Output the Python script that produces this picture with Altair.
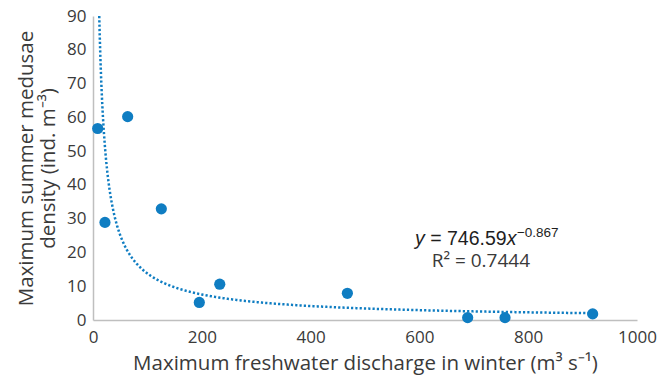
import altair as alt
import pandas as pd

# Observations: winter peak freshwater discharge vs summer peak medusae density
discharge = [8.6, 22.0, 63.7, 125.6, 195.4, 233.0, 467.6, 688.7, 757.4, 918.5]
density = [56.7, 28.9, 60.2, 32.9, 5.2, 10.6, 7.9, 0.7, 0.7, 1.8]

# Power-law fit y = a * x^b
coef_a = 746.59
coef_b = -0.867
r_squared = 0.7444

x_ticks = [0, 200, 400, 600, 800, 1000]
y_ticks = [0, 10, 20, 30, 40, 50, 60, 70, 80, 90]

# label anchors (data units)
eq_anchor_x = [592]
eq_anchor_y = [22.2]
r2_anchor_x = [713]
r2_anchor_y = [15.6]

BLUE = "#0f7dc2"
TEXT = "#3a3a3a"
FONT = "Open Sans"

df = pd.DataFrame({"discharge": discharge, "density": density})

xs = alt.Scale(domain=[0, 1000], nice=False, zero=True)
ys = alt.Scale(domain=[0, 90], nice=False, zero=True)

x_axis = alt.Axis(
    values=x_ticks,
    format="d",
    title="Maximum freshwater discharge in winter (m³ s⁻¹)",
    grid=False,
    ticks=False,
    tickSize=0,
    labelFlush=False,
    labelPadding=9,
    titlePadding=8,
)
y_axis = alt.Axis(
    values=y_ticks,
    format="d",
    title=["Maximum summer medusae", "density (ind. m⁻³)"],
    grid=False,
    ticks=False,
    tickSize=0,
    labelFlush=False,
    labelPadding=7,
    titlePadding=8,
)


def enc(xfield, yfield):
    return dict(
        x=alt.X(f"{xfield}:Q", scale=xs, axis=x_axis),
        y=alt.Y(f"{yfield}:Q", scale=ys, axis=y_axis),
    )


points = alt.Chart(df).mark_circle(size=125, color=BLUE, opacity=1).encode(
    **enc("discharge", "density")
)

# trendline starts where the curve enters the plotted range
x_start = (90 / coef_a) ** (1 / coef_b)
trend = (
    alt.Chart(alt.sequence(x_start, max(discharge) + 0.5, 0.5, as_="discharge"))
    .transform_calculate(density=f"{coef_a} * pow(datum.discharge, {coef_b})")
    .mark_line(color=BLUE, strokeWidth=2.5, strokeDash=[2.2, 2.1], clip=True)
    .encode(**enc("discharge", "density"))
)

eq_df = pd.DataFrame({"discharge": eq_anchor_x, "density": eq_anchor_y})
r2_df = pd.DataFrame({"discharge": r2_anchor_x, "density": r2_anchor_y})

eq_size = 19.5
sup_size = 13.5
w_y = 0.5 * eq_size
w_space = 0.278 * eq_size
w_mid = (0.278 + 0.584 + 0.278 + 3.058) * eq_size


def eq_piece(text, dx=0, dy=0, size=eq_size, style="normal"):
    return alt.Chart(eq_df).mark_text(
        text=text, align="left", baseline="alphabetic", dx=dx, dy=dy,
        font="Liberation Sans", fontSize=size, fontStyle=style, color="#1e1e1e",
    ).encode(**enc("discharge", "density"))


eq_y = eq_piece("y", style="italic")
eq_mid = eq_piece(f"= {coef_a}", dx=w_y + w_space)
eq_x = eq_piece("x", dx=w_y + w_mid, style="italic")
eq_sup = eq_piece(f"\u2212{abs(coef_b)}", dx=w_y + w_mid + w_y + 0.5, dy=-8, size=sup_size)

r2 = alt.Chart(r2_df).mark_text(
    text=f"R² = {r_squared}", align="center", baseline="alphabetic",
    font=FONT, fontSize=19, color=TEXT,
).encode(**enc("discharge", "density"))

chart = (
    alt.layer(trend, points, eq_y, eq_mid, eq_x, eq_sup, r2)
    .properties(
        width=544,
        height=304,
        autosize=alt.AutoSizeParams(type="none"),
        padding={"left": 93, "top": 16, "right": 25, "bottom": 58},
        background="white",
    )
    .configure_view(stroke=None)
    .configure_axis(
        domainColor="#bfbfbf",
        domainWidth=1.5,
        labelFont=FONT,
        labelFontSize=17,
        labelColor=TEXT,
        titleFont=FONT,
        titleFontSize=20.5,
        titleFontWeight="normal",
        titleColor=TEXT,
        labelOverlap=False,
    )
    .configure_axisY(titleLineHeight=22)
)

chart.save("out.html", embed_options={"renderer": "svg", "actions": False})
